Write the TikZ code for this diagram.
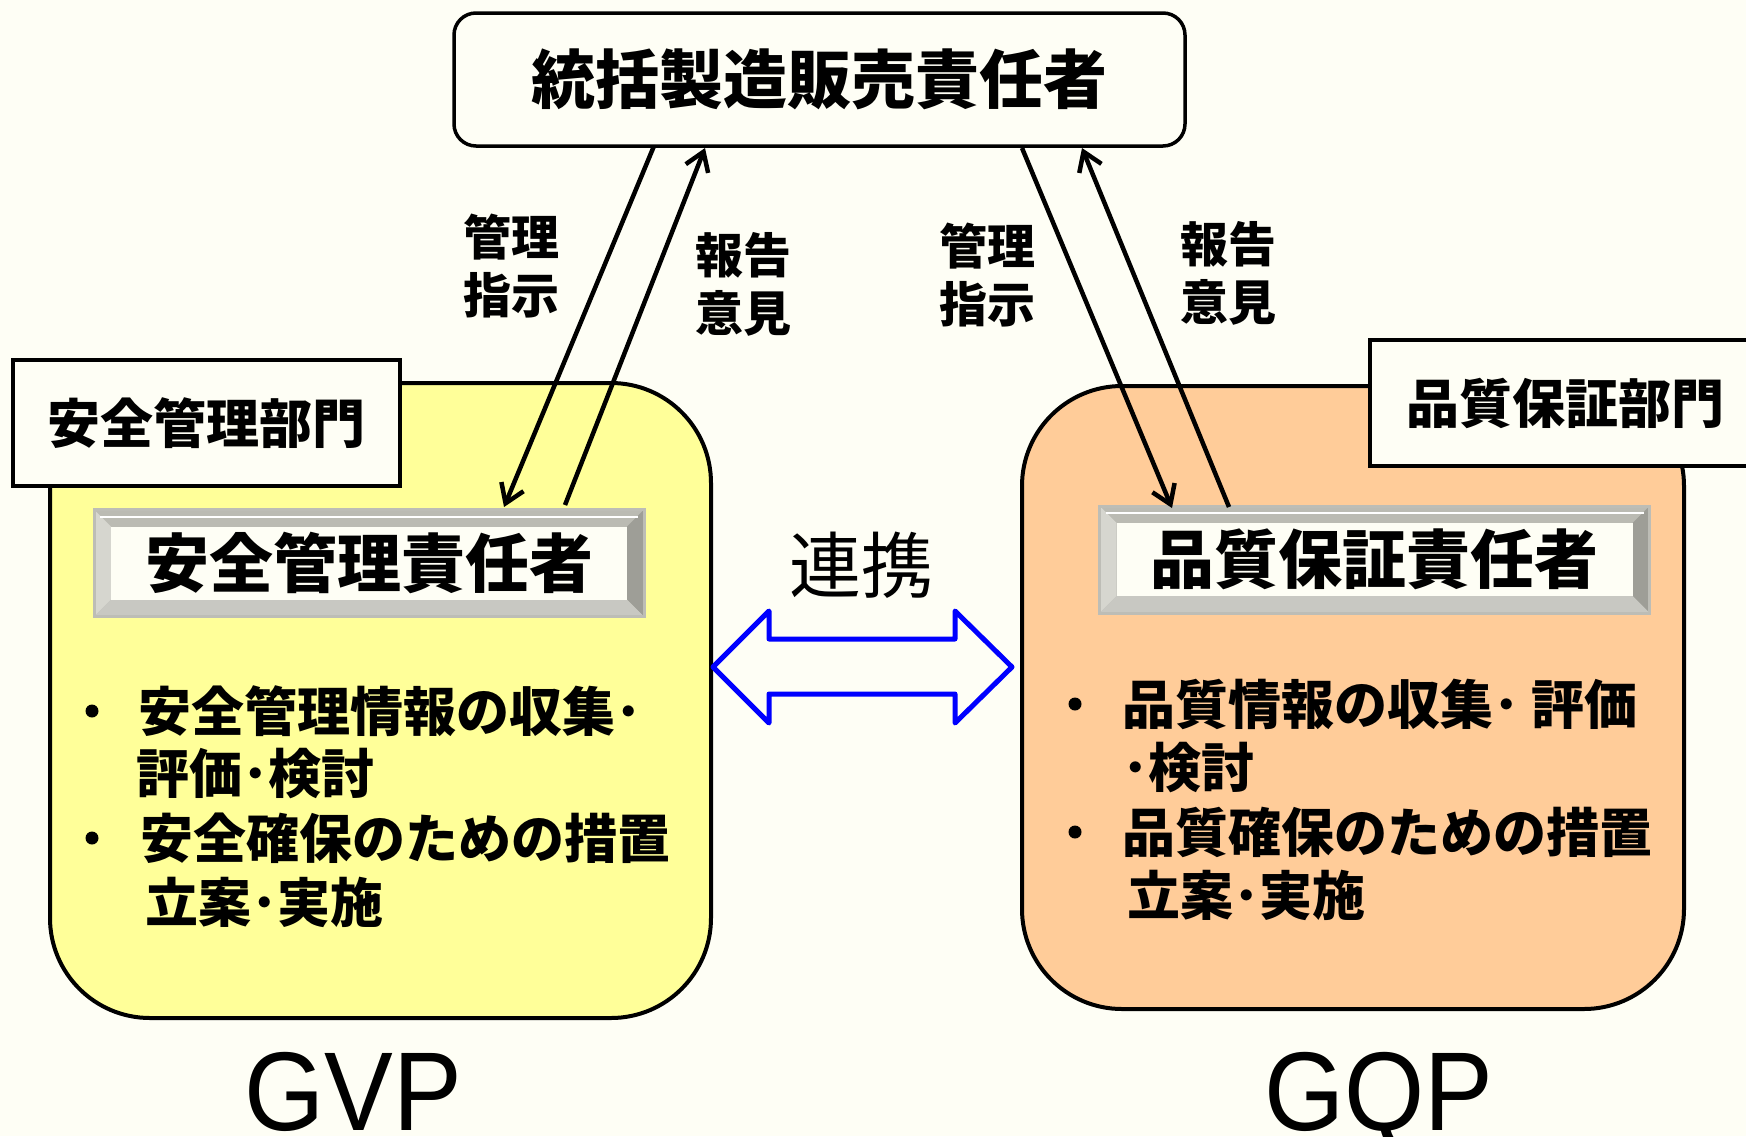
\documentclass[tikz,border=0pt]{standalone}
\usepackage{fontspec}
\newfontfamily\jp{Noto Sans CJK JP}
\newfontfamily\arialf{Liberation Sans}
\usetikzlibrary{arrows.meta}
\definecolor{bgc}{HTML}{FEFEF5}
\definecolor{yelfill}{HTML}{FFFF99}
\definecolor{orafill}{HTML}{FFCC99}
\definecolor{bevtop}{HTML}{BBBBB3}
\definecolor{bevleft}{HTML}{D6D6CF}
\definecolor{bevright}{HTML}{9E9E97}
\definecolor{bevbot}{HTML}{C8C8C2}
\definecolor{bevedge}{HTML}{BDBDB6}
\definecolor{linkblue}{HTML}{0000FF}
\def\bw{17pt}
\tikzset{
  bigbox/.style={draw, line width=4pt, rounded corners=100pt, inner sep=0pt},
  topbox/.style={draw, line width=3.5pt, rounded corners=22pt, fill=bgc, inner sep=0pt,
    font=\jp\bfseries\fontsize{64pt}{64pt}\selectfont},
  lblbox/.style={draw, line width=4pt, fill=bgc, inner sep=0pt,
    font=\jp\bfseries\fontsize{53pt}{53pt}\selectfont},
  bevelbox/.style={fill=bevtop, draw=bevedge, line width=3pt, inner sep=0pt,
    font=\jp\bfseries\fontsize{64pt}{64pt}\selectfont,
    path picture={
      \fill[bevleft] (path picture bounding box.north west) -- ([shift={(\bw,-\bw)}]path picture bounding box.north west) -- ([shift={(\bw,\bw)}]path picture bounding box.south west) -- (path picture bounding box.south west) -- cycle;
      \fill[bevright] (path picture bounding box.north east) -- ([shift={(-\bw,-\bw)}]path picture bounding box.north east) -- ([shift={(-\bw,\bw)}]path picture bounding box.south east) -- (path picture bounding box.south east) -- cycle;
      \fill[bevbot] (path picture bounding box.south west) -- ([shift={(\bw,\bw)}]path picture bounding box.south west) -- ([shift={(-\bw,\bw)}]path picture bounding box.south east) -- (path picture bounding box.south east) -- cycle;
      \draw[white, line width=2pt] ([shift={(6pt,-7pt)}]path picture bounding box.north west) -- ([shift={(-6pt,-7pt)}]path picture bounding box.north east);
      \fill[bgc] ([shift={(\bw,-\bw)}]path picture bounding box.north west) rectangle ([shift={(-\bw,\bw)}]path picture bounding box.south east);
    }},
  arrowlbl/.style={align=center, inner sep=0pt, font=\jp\bfseries\fontsize{48pt}{58pt}\selectfont},
  itemtxt/.style={anchor=west, inner sep=0pt, font=\jp\bfseries\fontsize{53pt}{53pt}\selectfont},
  dotmark/.style={circle, fill=black, inner sep=0pt, minimum size=13pt},
  ctrl/.style={line width=4.5pt, -{Straight Barb[length=18pt,width=24pt,line width=4.5pt]}},
  bigtxt/.style={anchor=base, inner sep=0pt, font=\arialf\fontsize{112pt}{112pt}\selectfont},
}
\begin{document}
\begin{tikzpicture}[x=1pt,y=-1pt]
\useasboundingbox (0,0) rectangle (1746,1136);
\fill[bgc] (0,0) rectangle (1746,1136);

% big department boxes
\node[bigbox, fill=yelfill, minimum width=661pt, minimum height=635pt] (gvpbox) at (380.5,700.5) {};
\node[bigbox, fill=orafill, minimum width=662pt, minimum height=623pt] (gqpbox) at (1353,697.5) {};

% department labels
\node[lblbox, minimum width=387pt, minimum height=126pt] (safedept) at (206.5,423) {安全管理部門};
\node[lblbox, minimum width=390pt, minimum height=126pt] (qualdept) at (1565,403) {品質保証部門};

% top box
\node[topbox, minimum width=731pt, minimum height=133pt] (top) at (819.5,79.5) {統括製造販売責任者};

% responsible persons
\node[bevelbox, minimum width=550pt, minimum height=107pt] (safemgr) at (369,563) {安全管理責任者};
\node[bevelbox, minimum width=550pt, minimum height=107pt] (qualmgr) at (1374.5,559.5) {品質保証責任者};

% connectors
\coordinate (a1s) at (654,146); \coordinate (a1e) at (504,507);
\coordinate (a2s) at (565,505); \coordinate (a2e) at (705,148);
\coordinate (a3s) at (1022,148); \coordinate (a3e) at (1172,508);
\coordinate (a4s) at (1229,507); \coordinate (a4e) at (1082,148);
\draw[ctrl] (a1s) -- (a1e);
\draw[ctrl] (a2s) -- (a2e);
\draw[ctrl] (a3s) -- (a3e);
\draw[ctrl] (a4s) -- (a4e);

\node[arrowlbl] (lbl1) at (511,266) {管理\\指示};
\node[arrowlbl] (lbl2) at (743,284) {報告\\意見};
\node[arrowlbl] (lbl3) at (987,275) {管理\\指示};
\node[arrowlbl] (lbl4) at (1228,273) {報告\\意見};

% cooperation
\node[inner sep=0pt, font=\jp\fontsize{72pt}{72pt}\selectfont] (coop) at (861,565) {連携};
\draw[linkblue, line width=5pt, line join=round, fill=bgc]
  (713,667) -- (769,611) -- (769,639) -- (955,639) -- (955,611) -- (1012,667)
  -- (955,723) -- (955,694) -- (769,694) -- (769,723) -- cycle;

% items left
\node[dotmark] (b1) at (92,711) {};
\node[itemtxt] (t1) at (138,711) {安全管理情報の収集･};
\node[itemtxt] (t2) at (136,774) {評価･検討};
\node[dotmark] (b2) at (92,838) {};
\node[itemtxt] (t3) at (140,838) {安全確保のための措置};
\node[itemtxt] (t4) at (145,902) {立案･実施};

% items right
\node[dotmark] (b3) at (1075,704) {};
\node[itemtxt] (r1) at (1122,704) {品質情報の収集･ 評価};
\node[itemtxt] (r2) at (1122,768) {･検討};
\node[dotmark] (b4) at (1075,832) {};
\node[itemtxt] (r3) at (1122,832) {品質確保のための措置};
\node[itemtxt] (r4) at (1127,895) {立案･実施};

% captions
\node[bigtxt] (gvp) at (353,1130) {\scalebox{0.92}[1]{GVP}};
\node[bigtxt] (gqp) at (1379,1130) {\scalebox{0.92}[1]{GQP}};
\end{tikzpicture}
\end{document}
